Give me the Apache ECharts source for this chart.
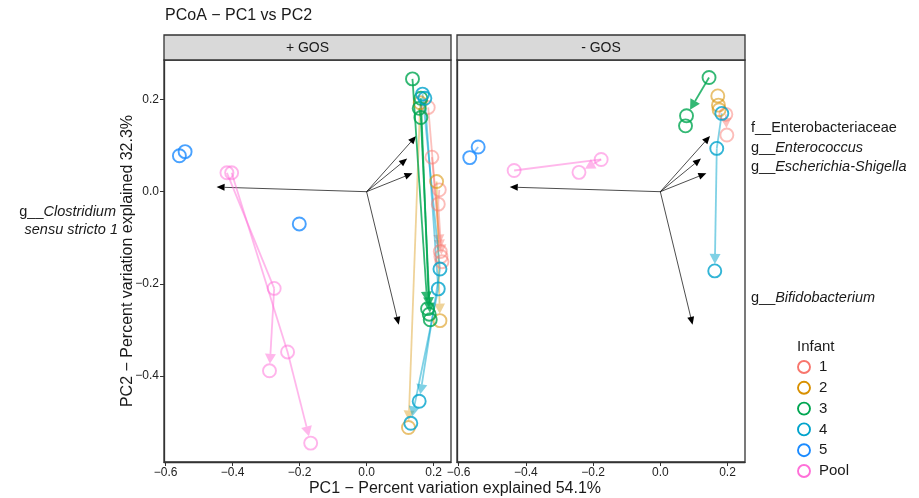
<!DOCTYPE html>
<html>
<head>
<meta charset="utf-8">
<script src="https://cdn.jsdelivr.net/npm/echarts@6/dist/echarts.min.js"></script>
<style>
html, body { margin: 0; padding: 0; background: #fff; }
#main { width: 919px; height: 498px; }
</style>
</head>
<body>
<div id="main"></div>
<script>
var infants = ['1', '2', '3', '4', '5', 'Pool'];
var infantColors = ['#F8766D', '#D89000', '#00A651', '#00A3CC', '#1B8BFF', '#FF6FD8'];
var panels = ['+ GOS', '- GOS'];
var xTicks = [-0.6, -0.4, -0.2, 0, 0.2];
var yTicks = [-0.4, -0.2, 0, 0.2];

// trajectories [PC1, PC2], one list of paths per infant, the last point gets the arrow
var plusGos1 = [
    [[0.184, 0.183], [0.220, -0.130]],
    [[0.195, 0.075], [0.222, -0.141]],
    [[0.217, 0.004], [0.214, -0.027], [0.225, -0.152]]
];
var plusGos2 = [
    [[0.160, 0.193], [0.125, -0.512]],
    [[0.209, 0.022], [0.219, -0.280]]
];
var plusGos3 = [
    [[0.137, 0.245], [0.182, -0.254]],
    [[0.162, 0.203], [0.187, -0.266]],
    [[0.157, 0.181], [0.162, 0.161], [0.190, -0.278]]
];
var plusGos4 = [
    [[0.167, 0.212], [0.219, -0.168], [0.157, -0.455]],
    [[0.174, 0.203], [0.214, -0.211], [0.132, -0.503]]
];
var plusGos5 = [
    [[-0.559, 0.078]],
    [[-0.542, 0.087]],
    [[-0.201, -0.070]]
];
var plusGosPool = [
    [[-0.417, 0.041], [-0.276, -0.210], [-0.290, -0.389]],
    [[-0.403, 0.041], [-0.236, -0.348], [-0.167, -0.546]]
];

var minusGos1 = [
    [[0.195, 0.168], [0.198, 0.123]]
];
var minusGos2 = [
    [[0.171, 0.208]],
    [[0.173, 0.188]],
    [[0.175, 0.178]]
];
var minusGos3 = [
    [[0.145, 0.248], [0.078, 0.165]],
    [[0.075, 0.143]]
];
var minusGos4 = [
    [[0.183, 0.170], [0.168, 0.094], [0.162, -0.172]]
];
var minusGos5 = [
    [[-0.542, 0.097], [-0.567, 0.074]]
];
var minusGosPool = [
    [[-0.435, 0.046], [-0.176, 0.070], [-0.242, 0.042]]
];

// biplot taxa loadings
var taxaPC1 = [0.148, 0.121, 0.137, -0.448, 0.096];
var taxaPC2 = [0.121, 0.072, 0.040, 0.010, -0.289];

var pathsByPanel = [
    [plusGos1, plusGos2, plusGos3, plusGos4, plusGos5, plusGosPool],
    [minusGos1, minusGos2, minusGos3, minusGos4, minusGos5, minusGosPool]
];
var pointAlpha = [0.6, 0.7, 1, 1, 1, 0.65];
var lineAlpha = [0.45, 0.4, 0.8, 0.5, 0.5, 0.5];
var FONT = '"Liberation Sans", Arial, sans-serif';

function rgba(hex, a) {
    var n = parseInt(hex.slice(1), 16);
    return 'rgba(' + (n >> 16) + ',' + ((n >> 8) & 255) + ',' + (n & 255) + ',' + a + ')';
}

// one data item = one segment [x1, y1, x2, y2, isLast]
function arrowRenderer(color, lineW, trim, headLen, headW) {
    return function (params, api) {
        var a = api.coord([api.value(0), api.value(1)]);
        var b = api.coord([api.value(2), api.value(3)]);
        var last = api.value(4);
        if (!last) {
            return {
                type: 'line',
                shape: { x1: a[0], y1: a[1], x2: b[0], y2: b[1] },
                style: { stroke: color, lineWidth: lineW }
            };
        }
        var dx = b[0] - a[0], dy = b[1] - a[1];
        var L = Math.sqrt(dx * dx + dy * dy) || 1;
        var ux = dx / L, uy = dy / L;
        var tip = [b[0] - ux * trim, b[1] - uy * trim];
        if (L < trim + headLen + 1) {
            return {
                type: 'line',
                shape: { x1: a[0], y1: a[1], x2: tip[0], y2: tip[1] },
                style: { stroke: color, lineWidth: lineW }
            };
        }
        var base = [tip[0] - ux * headLen, tip[1] - uy * headLen];
        return {
            type: 'group',
            children: [{
                type: 'line',
                shape: { x1: a[0], y1: a[1], x2: base[0], y2: base[1] },
                style: { stroke: color, lineWidth: lineW }
            }, {
                type: 'polygon',
                shape: { points: [tip, [base[0] - uy * headW, base[1] + ux * headW], [base[0] + uy * headW, base[1] - ux * headW]] },
                style: { fill: color }
            }]
        };
    };
}

var series = [];
var grids = [], xAxes = [], yAxes = [];
var gridLeft = [164, 457], gridWidth = [287, 288];

panels.forEach(function (pname, p) {
    grids.push({
        left: gridLeft[p], top: 60, width: gridWidth[p], height: 402,
        show: true, borderColor: '#333', borderWidth: 1.3, backgroundColor: '#fff'
    });
    xAxes.push({
        type: 'value', gridIndex: p, min: -0.605, max: 0.252,
        axisLine: { show: true, onZero: false, lineStyle: { color: '#333', width: 1.3 } },
        splitLine: { show: false },
        axisTick: { show: true, length: 4, customValues: xTicks, lineStyle: { color: '#333' } },
        axisLabel: {
            customValues: xTicks, color: '#222', fontSize: 12, fontFamily: FONT, margin: 5,
            formatter: function (v) { return v.toFixed(1).replace('-', '\u2212'); }
        }
    });
    yAxes.push({
        type: 'value', gridIndex: p, min: -0.587, max: 0.286,
        axisLine: { show: true, onZero: false, lineStyle: { color: '#333', width: 1.3 } },
        splitLine: { show: false },
        axisTick: { show: p === 0, length: 4, customValues: yTicks, lineStyle: { color: '#333' } },
        axisLabel: {
            show: p === 0, customValues: yTicks, color: '#222', fontSize: 12, fontFamily: FONT, margin: 5,
            formatter: function (v) { return v.toFixed(1).replace('-', '\u2212'); }
        }
    });

    // biplot arrows
    var bip = taxaPC1.map(function (x, i) { return [0, 0, x, taxaPC2[i], 1]; });
    series.push({
        type: 'custom', xAxisIndex: p, yAxisIndex: p, z: 1, silent: true,
        renderItem: arrowRenderer('#000', 0.7, 0, 8, 3.5),
        encode: { x: [0, 2], y: [1, 3] },
        data: bip
    });

    pathsByPanel[p].forEach(function (paths, g) {
        var segs = [], pts = [];
        paths.forEach(function (path) {
            path.forEach(function (pt, j) {
                pts.push(pt);
                if (j < path.length - 1) {
                    var nx = path[j + 1];
                    segs.push([pt[0], pt[1], nx[0], nx[1], j === path.length - 2 ? 1 : 0]);
                }
            });
        });
        series.push({
            type: 'custom', name: infants[g], xAxisIndex: p, yAxisIndex: p, z: 2, silent: true,
            renderItem: arrowRenderer(rgba(infantColors[g], lineAlpha[g]), 1.8, 7, 10, 5.5),
            encode: { x: [0, 2], y: [1, 3] },
            data: segs
        });
        series.push({
            type: 'scatter', name: infants[g], xAxisIndex: p, yAxisIndex: p, z: 3, silent: true,
            symbol: 'circle', symbolSize: 13,
            itemStyle: { color: 'rgba(0,0,0,0)', borderColor: rgba(infantColors[g], pointAlpha[g]), borderWidth: 1.9 },
            data: pts
        });
    });
});

var graphics = [
    { type: 'text', left: 165, top: 8, style: { text: 'PCoA \u2212 PC1 vs PC2', font: '16px ' + FONT, fill: '#1a1a1a' } },
    {
        type: 'text', x: 455, y: 489,
        style: { text: 'PC1 \u2212 Percent variation explained 54.1%', font: '16px ' + FONT, fill: '#1a1a1a', align: 'center', verticalAlign: 'middle' }
    },
    {
        type: 'text', x: 128, y: 261, rotation: Math.PI / 2,
        style: { text: 'PC2 \u2212 Percent variation explained 32.3%', font: '16px ' + FONT, fill: '#1a1a1a', align: 'center', verticalAlign: 'middle' }
    }
];

panels.forEach(function (pname, p) {
    graphics.push({
        type: 'rect', shape: { x: gridLeft[p], y: 35, width: gridWidth[p], height: 25 },
        style: { fill: '#D9D9D9', stroke: '#333', lineWidth: 1.3 }
    });
    graphics.push({
        type: 'text', x: gridLeft[p] + gridWidth[p] / 2, y: 48,
        style: { text: pname, font: '14px ' + FONT, fill: '#1a1a1a', align: 'center', verticalAlign: 'middle' }
    });
});

// taxa labels
var rich = {
    n: { fontFamily: FONT, fontSize: 14.5, fill: '#1a1a1a' },
    i: { fontFamily: FONT, fontSize: 14.5, fontStyle: 'italic', fill: '#1a1a1a' }
};
var taxaLabels = [
    ['{n|f__Enterobacteriaceae}', 751, 128, 'left'],
    ['{n|g__}{i|Enterococcus}', 751, 148, 'left'],
    ['{n|g__}{i|Escherichia-Shigella}', 751, 167, 'left'],
    ['{n|g__}{i|Bifidobacterium}', 751, 298, 'left'],
    ['{n|g__}{i|Clostridium}', 116, 212, 'right'],
    ['{i|sensu stricto 1}', 118, 230, 'right']
];
taxaLabels.forEach(function (t) {
    graphics.push({
        type: 'text', x: t[1], y: t[2],
        style: { text: t[0], rich: rich, align: t[3], verticalAlign: 'middle' }
    });
});

// legend
graphics.push({ type: 'text', x: 797, y: 347, style: { text: 'Infant', font: '15px ' + FONT, fill: '#1a1a1a', verticalAlign: 'middle' } });
infants.forEach(function (name, g) {
    var cy = 367 + g * 20.8;
    graphics.push({
        type: 'circle', shape: { cx: 804, cy: cy, r: 6 },
        style: { fill: 'none', stroke: infantColors[g], lineWidth: 1.9 }
    });
    graphics.push({
        type: 'text', x: 819, y: cy,
        style: { text: name, font: '15px ' + FONT, fill: '#1a1a1a', verticalAlign: 'middle' }
    });
});

var myChart = echarts.init(document.getElementById('main'));
var option = {
    animation: false,
    backgroundColor: '#fff',
    grid: grids,
    xAxis: xAxes,
    yAxis: yAxes,
    series: series,
    graphic: graphics
};
myChart.setOption(option, true);
</script>
</body>
</html>
